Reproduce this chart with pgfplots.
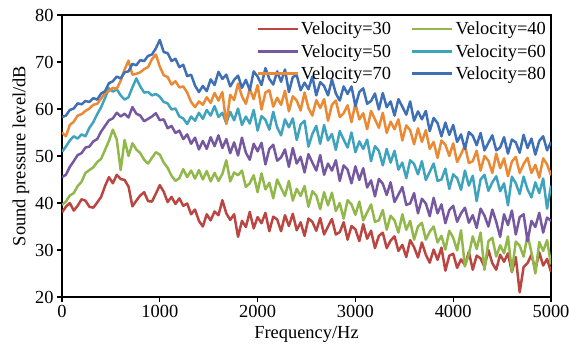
\documentclass[border=0pt]{standalone}
\usepackage{pgfplots}
\pgfplotsset{compat=1.18}
\usepackage{pgfplotstable}
\usepackage{fontspec}
\setmainfont{Liberation Serif}
\definecolor{cRed}{HTML}{BA4541}
\definecolor{cGreen}{HTML}{92B74B}
\definecolor{cPurple}{HTML}{7658A0}
\definecolor{cTeal}{HTML}{3FA3BE}
\definecolor{cOrange}{HTML}{EB8A34}
\definecolor{cBlue}{HTML}{3F6FB5}
\pgfplotstableread{
x a b c d e f
0 38.0 39.6 45.5 50.9 55.0 58.3
40 39.2 40.3 46.0 52.0 54.2 58.6
80 40.0 41.6 47.7 53.3 56.6 59.8
120 38.4 42.1 48.9 54.2 57.3 60.1
160 39.4 43.6 50.2 53.7 58.6 61.2
200 40.8 44.5 50.6 54.6 58.9 61.0
240 40.5 46.4 51.8 54.2 59.6 61.7
280 39.2 47.0 52.0 56.0 60.1 61.5
320 39.0 47.6 53.1 57.2 60.9 62.3
360 40.1 48.7 53.6 58.9 61.1 62.0
400 41.3 49.4 55.2 60.4 62.2 63.3
440 43.6 51.3 56.4 62.3 63.4 63.8
480 45.5 53.2 57.6 64.4 63.8 65.5
520 44.2 55.6 58.0 63.7 64.5 65.9
560 46.0 53.5 59.2 64.2 64.3 66.9
600 45.1 47.0 58.4 62.9 66.0 66.5
640 44.9 53.4 59.0 62.0 68.4 67.8
680 43.5 50.0 58.2 62.5 70.3 68.0
720 39.3 52.7 60.4 64.6 67.3 69.6
760 40.5 51.4 59.0 66.5 67.5 69.3
800 41.6 50.6 58.6 64.8 67.8 70.4
840 42.3 49.2 57.4 63.5 68.5 70.2
880 40.4 48.4 57.9 63.6 68.9 71.3
920 40.3 49.6 58.4 62.9 70.6 71.6
960 42.0 50.8 59.1 63.2 71.6 72.9
1000 43.8 50.3 57.6 62.6 69.0 74.7
1040 42.4 48.6 57.8 61.5 67.2 72.1
1080 40.2 47.5 55.9 61.2 66.8 71.9
1120 41.3 45.8 56.4 59.9 65.2 70.2
1160 39.8 44.7 54.9 60.1 65.9 70.7
1200 41.0 45.3 55.4 58.4 64.6 68.9
1240 39.4 47.2 53.6 58.0 64.8 69.4
1280 39.9 45.5 54.6 56.8 63.5 67.0
1320 37.6 46.9 52.6 58.4 61.5 67.3
1360 38.6 45.2 53.9 57.5 60.4 65.0
1400 36.2 47.0 51.4 59.2 61.6 63.6
1440 35.0 45.0 53.2 57.9 60.9 64.9
1480 37.6 46.8 51.5 59.8 62.5 63.8
1520 36.3 44.6 54.0 58.6 61.3 66.3
1560 38.2 46.4 52.1 60.6 63.4 65.1
1600 37.4 44.7 54.4 58.3 61.8 67.9
1640 40.6 46.2 51.7 59.2 63.6 66.4
1680 37.8 49.1 53.6 57.0 56.8 67.3
1720 36.4 44.6 50.6 59.4 63.0 64.8
1760 37.6 46.5 52.9 57.6 61.9 66.2
1800 32.8 45.9 50.1 60.1 65.4 67.1
1840 36.2 46.9 53.9 56.6 62.7 64.5
1880 34.9 43.4 50.7 58.4 61.1 66.2
1920 38.1 44.2 49.2 56.9 64.3 64.0
1960 34.6 45.9 52.6 59.8 62.1 68.0
2000 37.0 42.3 51.0 55.4 65.1 66.9
2040 35.7 46.3 52.8 58.5 59.9 65.1
2080 37.9 42.9 48.2 57.7 63.5 68.7
2120 34.0 44.3 51.5 55.6 64.0 66.4
2160 37.1 41.0 52.4 59.4 60.5 65.2
2200 36.5 45.0 49.0 56.1 62.4 68.0
2240 34.0 43.2 49.7 54.4 60.9 65.8
2280 37.4 41.5 51.4 57.8 63.9 68.4
2320 35.1 44.7 47.7 56.1 59.5 63.6
2360 37.7 40.5 51.7 58.0 62.7 66.8
2400 34.2 43.0 48.4 53.4 61.8 67.2
2440 35.9 41.5 49.8 56.7 59.7 64.0
2480 33.0 43.6 46.5 57.5 63.5 65.6
2520 36.7 39.2 50.4 52.0 60.2 64.2
2560 36.0 42.5 48.6 54.7 58.6 66.9
2600 34.1 41.6 46.9 56.4 61.9 62.9
2640 36.8 38.7 50.2 52.6 60.2 65.7
2680 33.3 42.3 46.0 56.6 62.1 64.9
2720 35.0 39.5 48.4 53.3 57.5 62.9
2760 36.6 42.2 46.9 54.7 60.9 66.3
2800 33.3 38.3 49.1 51.3 61.8 63.3
2840 33.8 40.0 44.7 55.3 58.3 61.8
2880 35.9 36.7 48.0 53.5 59.1 64.8
2920 32.2 40.6 47.1 51.8 60.8 63.2
2960 35.1 39.7 44.2 55.0 57.2 64.8
3000 34.4 37.5 47.8 50.8 61.2 60.6
3040 31.9 40.3 44.9 53.1 57.8 63.6
3080 35.5 36.3 47.4 51.5 59.1 64.4
3120 32.4 38.0 43.3 53.5 55.7 61.1
3160 34.1 39.7 44.8 48.9 59.6 61.7
3200 30.4 36.0 41.4 52.1 57.8 63.3
3240 33.0 36.3 45.1 51.1 56.0 59.9
3280 33.7 38.5 44.1 48.0 59.2 63.4
3320 30.4 34.3 41.7 51.5 54.9 60.4
3360 32.0 37.3 44.4 48.6 57.3 61.6
3400 32.9 36.3 40.2 51.1 55.7 58.6
3440 29.8 33.7 41.8 47.1 57.8 62.1
3480 31.1 37.6 43.4 48.6 53.3 60.5
3520 28.5 34.3 39.6 45.3 56.5 58.8
3560 32.1 36.2 39.9 49.1 55.5 61.6
3600 30.6 32.2 42.1 48.3 52.5 57.5
3640 28.4 35.0 37.8 46.1 55.9 59.5
3680 31.6 35.8 40.9 48.9 53.0 57.8
3720 29.0 32.2 39.9 44.9 55.5 59.6
3760 27.3 33.9 37.2 46.6 51.5 55.3
3800 30.1 35.0 41.1 48.4 53.0 58.1
3840 27.9 31.6 37.8 44.7 49.6 57.0
3880 30.5 33.0 39.7 45.0 53.3 54.2
3920 25.6 30.1 35.7 47.3 52.4 57.1
3960 28.8 34.1 38.5 43.0 50.0 54.5
4000 29.2 32.6 39.4 46.1 52.7 56.6
4040 26.2 29.9 36.0 45.3 48.7 53.0
4080 28.0 34.2 37.8 42.8 50.4 54.6
4120 26.8 26.5 39.0 46.9 52.2 51.5
4160 29.6 29.1 35.8 43.7 48.5 55.1
4200 25.8 32.9 37.4 45.8 48.9 54.3
4240 28.8 30.2 34.7 40.4 51.1 52.3
4280 28.2 33.7 38.8 45.0 46.9 54.9
4320 26.4 25.8 37.3 46.0 50.0 51.2
4360 30.0 31.9 35.0 42.6 49.0 52.8
4400 27.2 32.6 38.6 44.4 46.4 54.4
4440 25.8 28.6 36.0 45.7 50.5 51.2
4480 29.0 31.0 32.8 42.5 47.4 51.8
4520 27.5 29.3 37.6 44.2 49.5 54.0
4560 29.3 32.9 35.3 39.5 45.7 50.5
4600 25.3 25.4 38.4 45.6 48.8 53.5
4640 28.5 31.8 33.3 44.2 49.8 52.9
4680 21.0 30.9 37.0 41.9 46.4 50.7
4720 26.4 28.6 37.6 45.6 48.3 54.5
4760 27.2 33.2 31.9 42.9 49.6 51.7
4800 29.0 29.5 36.2 41.2 46.4 53.7
4840 25.8 25.0 34.9 44.4 48.1 50.3
4880 29.5 31.7 37.9 42.1 45.4 53.2
4920 26.7 29.8 33.7 45.2 49.5 54.2
4960 28.1 32.1 36.9 38.8 48.2 51.2
5000 25.3 26.9 36.2 43.7 45.9 53.0
}\datatable
\begin{document}
\begin{tikzpicture}
\begin{axis}[
  scale only axis, width=489bp, height=282bp,
  xmin=0, xmax=5000, ymin=20, ymax=80,
  xtick={0,1000,...,5000}, ytick={20,30,...,80},
  scaled x ticks=false,
  /pgf/number format/assume math mode=true,
  x tick label style={/pgf/number format/1000 sep={}},
  tick align=outside, tick pos=left, major tick length=5bp,
  every tick/.style={black, line width=1.2bp},
  axis line style={line width=1.6bp},
  tick label style={font=\fontsize{18.5}{20}\selectfont},
  label style={font=\fontsize{18.5}{20}\selectfont},
  xlabel={Frequency/Hz}, ylabel={Sound pressure level/dB},
  xlabel style={yshift=-2bp},
  ylabel style={yshift=-1bp},
  every axis plot/.append style={line width=2.5bp, line join=round},
  legend columns=2,
  legend style={draw=none, fill=none, at={(1,0.99)}, anchor=north east,
    font=\fontsize{18.5}{20}\selectfont, row sep=4bp,
    /tikz/every even column/.append style={column sep=18bp}},
  legend image code/.code={\draw[#1, line width=2.5bp] (0bp,0bp) -- (40bp,0bp);},
]
\addplot[cRed] table[x=x,y=a]{\datatable};
\addlegendentry{Velocity=30}
\addplot[cGreen] table[x=x,y=b]{\datatable};
\addlegendentry{Velocity=40}
\addplot[cPurple] table[x=x,y=c]{\datatable};
\addlegendentry{Velocity=50}
\addplot[cTeal] table[x=x,y=d]{\datatable};
\addlegendentry{Velocity=60}
\addplot[cOrange] table[x=x,y=e]{\datatable};
\addlegendentry{Velocity=70}
\addplot[cBlue] table[x=x,y=f]{\datatable};
\addlegendentry{Velocity=80}
\end{axis}
\pgfresetboundingbox
\path (current axis.south west) ++(-62bp,-47bp) coordinate (bl);
\path (current axis.north east) ++(18bp,15bp) coordinate (tr);
\path[use as bounding box] (bl) rectangle (tr);
\end{tikzpicture}
\end{document}
